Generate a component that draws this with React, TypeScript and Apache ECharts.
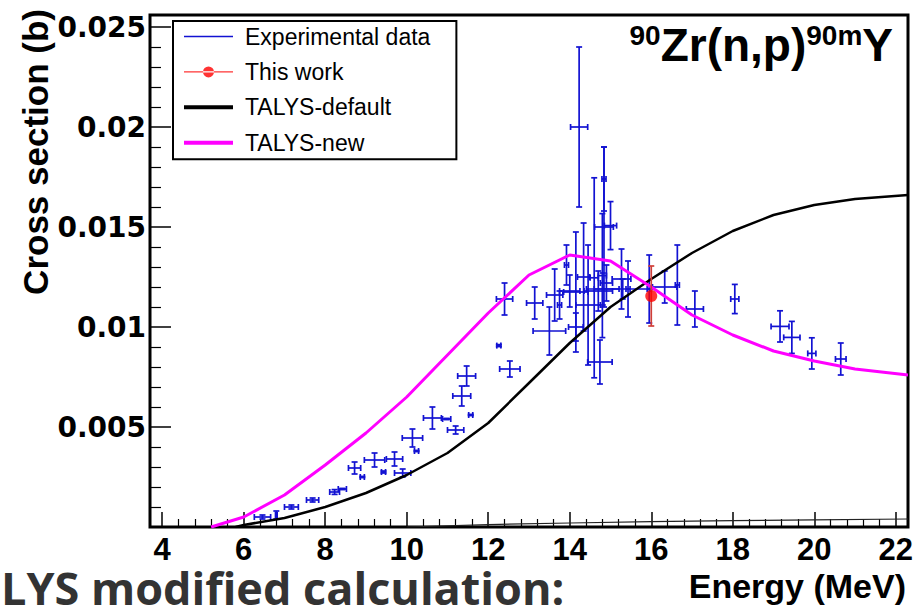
import React, { useEffect, useRef } from "react";
import * as echarts from "echarts";

// ---- Experimental data (EXFOR compilation): energy (MeV), cross section (b), errors
const expEnergy = [
  6.46, 6.8, 7.17, 7.69, 8.23, 8.42, 8.72, 8.91, 9.21, 9.43, 9.7, 9.9, 10.14, 10.24, 10.63, 10.98,
  11.2, 11.35, 11.47, 11.57, 12.26, 12.4, 12.53, 13.14, 13.5, 13.63, 13.75, 13.92, 14.0, 14.15,
  14.15, 14.23, 14.34, 14.45, 14.6, 14.7, 14.74, 14.8, 14.81, 14.84, 14.84, 14.9, 15.0, 15.27,
  15.3, 15.43, 15.95, 16.33, 16.64, 17.07, 18.05, 19.16, 19.45, 19.94, 20.65,
];
const expSigma = [
  0.0005, 0.0006, 0.001, 0.00135, 0.00175, 0.0019, 0.00295, 0.0025, 0.00335, 0.00275, 0.0034,
  0.0027, 0.00445, 0.0038, 0.00545, 0.0054, 0.00485, 0.00655, 0.00755, 0.0056, 0.00907, 0.0114,
  0.0079, 0.0112, 0.0098, 0.0116, 0.0111, 0.0131, 0.0118, 0.01175, 0.01, 0.02, 0.0125, 0.0111,
  0.01246, 0.0118, 0.00825, 0.01257, 0.0119, 0.015, 0.0174, 0.0122, 0.01507, 0.0124, 0.0119,
  0.0119, 0.0119, 0.012, 0.0121, 0.0109, 0.0114, 0.01003, 0.00948, 0.00868, 0.0084,
];
const expEnergyErr = [
  0.2, 0.02, 0.17, 0.15, 0.12, 0.1, 0.15, 0.05, 0.25, 0.05, 0.2, 0.2, 0.25, 0.05, 0.22, 0.1, 0.2,
  0.22, 0.22, 0.05, 0.05, 0.2, 0.25, 0.2, 0.4, 0.2, 0.05, 0.05, 0.25, 0.3, 0.18, 0.21, 0.15, 0.3,
  0.1, 0.35, 0.3, 0.1, 0.4, 0.23, 0.05, 0.15, 0.15, 0.23, 0.7, 0.05, 0.05, 0.3, 0.05, 0.21, 0.1,
  0.22, 0.2, 0.1, 0.13,
];
const expSigmaErr = [
  0.0001, 0.0002, 0.0001, 0.0001, 0.00012, 0.00003, 0.0003, 0.00003, 0.00035, 0.00005, 0.00035,
  0.0002, 0.00045, 0.00003, 0.00055, 0.00003, 0.0002, 0.0005, 0.0005, 0.00003, 0.00005, 0.0008,
  0.0004, 0.0008, 0.0012, 0.0013, 0.0007, 0.001, 0.0008, 0.003, 0.0007, 0.004, 0.0027, 0.003,
  0.005, 0.001, 0.0011, 0.0031, 0.0008, 0.004, 0.0016, 0.0009, 0.0012, 0.0015, 0.0005, 0.0014,
  0.0017, 0.0008, 0.002, 0.0009, 0.00073, 0.00078, 0.0008, 0.00078, 0.0008,
];

// ---- This work
const thisWorkEnergy = [16.0];
const thisWorkSigma = [0.01155];
const thisWorkSigmaErr = [0.0015];

// ---- TALYS calculations
const talysDefaultEnergy = [5.8, 6, 7, 8, 9, 10, 11, 12, 13, 14, 15, 16, 17, 18, 19, 20, 21, 22.3];
const talysDefaultSigma = [
  0, 0.0001, 0.00045, 0.001, 0.0017, 0.0026, 0.0037, 0.0052, 0.0072, 0.0092, 0.011, 0.0124,
  0.0137, 0.0148, 0.0156, 0.0161, 0.0164, 0.0166,
];
const talysNewEnergy = [5.2, 6, 7, 8, 9, 10, 11, 12, 13, 14, 15, 16, 17, 18, 19, 20, 21, 22.3];
const talysNewSigma = [
  0, 0.0005, 0.0016, 0.0031, 0.0047, 0.0065, 0.0086, 0.0107, 0.0126, 0.0136, 0.0133, 0.012,
  0.0106, 0.0096, 0.0088, 0.0083, 0.0079, 0.0076,
];
const lowCurveEnergy = [10, 12, 14, 16, 18, 20, 22.3];
const lowCurveSigma = [0, 0.00012, 0.0002, 0.00027, 0.00032, 0.00036, 0.0004];

// ---- Tick labels
const xTickValues = [4, 6, 8, 10, 12, 14, 16, 18, 20, 22];
const yTickValues = [0.005, 0.01, 0.015, 0.02, 0.025];
const yTickLabels = ["0.005", "0.01", "0.015", "0.02", "0.025"];

const BLUE = "#1212d2";
const RED = "#ff0000";
const RED_ERR = "#cf3f38";
const MAGENTA = "#ff00ff";

const makeErrorBar = (color: string, lw: number, cap: number) => (params: any, api: any) => {
  const x = api.value(0);
  const y = api.value(1);
  const dx = api.value(2);
  const dy = api.value(3);
  const c = api.coord([x, y]);
  const style = { stroke: color, lineWidth: lw, fill: "none" };
  const children: any[] = [];
  if (dx > 0) {
    const l = api.coord([x - dx, y]);
    const r = api.coord([x + dx, y]);
    children.push({ type: "line", shape: { x1: l[0], y1: c[1], x2: r[0], y2: c[1] }, style });
    children.push({ type: "line", shape: { x1: l[0], y1: c[1] - cap, x2: l[0], y2: c[1] + cap }, style });
    children.push({ type: "line", shape: { x1: r[0], y1: c[1] - cap, x2: r[0], y2: c[1] + cap }, style });
  }
  if (dy > 0) {
    const t = api.coord([x, y + dy]);
    const b = api.coord([x, y - dy]);
    children.push({ type: "line", shape: { x1: c[0], y1: t[1], x2: c[0], y2: b[1] }, style });
    children.push({ type: "line", shape: { x1: c[0] - cap, y1: t[1], x2: c[0] + cap, y2: t[1] }, style });
    children.push({ type: "line", shape: { x1: c[0] - cap, y1: b[1], x2: c[0] + cap, y2: b[1] }, style });
  }
  return { type: "group", children };
};

const HELV = "'Liberation Sans', Arial, Helvetica, sans-serif";

export default function App() {
  const ref = useRef<HTMLDivElement>(null);
  useEffect(() => {
    if (!ref.current) return;
    const chart = echarts.init(ref.current, undefined, { renderer: "svg" });
    const expData = expEnergy.map((e, i) => [e, expSigma[i], expEnergyErr[i], expSigmaErr[i]]);
    const twErr = thisWorkEnergy.map((e, i) => [e, thisWorkSigma[i], 0, thisWorkSigmaErr[i]]);
    const option: any = {
      animation: false,
      backgroundColor: "#fff",
      grid: {
        left: 150,
        right: 12,
        top: 15,
        bottom: 82,
        show: true,
        borderColor: "#000",
        borderWidth: 3,
        backgroundColor: "transparent",
      },
      xAxis: {
        type: "value",
        min: 3.7,
        max: 22.3,
        splitNumber: 9,
        axisLine: { show: false },
        splitLine: { show: false },
        axisTick: { show: true, inside: true, length: 15, lineStyle: { color: "#000", width: 1.5 } },
        minorTick: { show: true, splitNumber: 5, length: 8, lineStyle: { color: "#000", width: 1.2 } },
        axisLabel: {
          margin: 7,
          color: "#000",
          fontFamily: HELV,
          fontWeight: "bold",
          fontSize: 31,
          lineHeight: 30,
          formatter: (v: number) => {
            const t = xTickValues.find((k) => Math.abs(k - v) < 1e-6);
            return t === undefined ? "" : String(t);
          },
        },
      },
      yAxis: {
        type: "value",
        min: 0,
        max: 0.0256,
        interval: 0.005,
        axisLine: { show: false },
        splitLine: { show: false },
        axisTick: { show: true, inside: true, length: 21, lineStyle: { color: "#000", width: 1.5 } },
        minorTick: { show: true, splitNumber: 5, length: 11, lineStyle: { color: "#000", width: 1.2 } },
        axisLabel: {
          margin: 4,
          color: "#000",
          fontFamily: "'DejaVu Sans', sans-serif",
          fontWeight: "bold",
          fontSize: 28,
          formatter: (v: number) => {
            const i = yTickValues.findIndex((k) => Math.abs(k - v) < 1e-9);
            return i < 0 ? "" : yTickLabels[i];
          },
        },
      },
      legend: {
        orient: "vertical",
        left: 173,
        top: 21,
        backgroundColor: "#fff",
        borderColor: "#000",
        borderWidth: 2,
        padding: [4, 26, 5, 11],
        itemWidth: 49,
        itemHeight: 14,
        itemGap: 12.4,
        selectedMode: false,
        itemStyle: { borderWidth: 0 },
        textStyle: { fontFamily: HELV, fontSize: 23, color: "#000", padding: [0, 0, 0, 7] },
        data: [
          { name: "Experimental data", icon: "path://M0,0L49,0L49,1.3L0,1.3Z" },
          {
            name: "This work",
            icon: "path://M0,5.35L49,5.35L49,6.65L0,6.65Z M19,6A5.5,5.5,0,1,0,30,6A5.5,5.5,0,1,0,19,6Z",
          },
          { name: "TALYS-default", icon: "path://M0,0L49,0L49,4L0,4Z" },
          { name: "TALYS-new", icon: "path://M0,0L49,0L49,4L0,4Z" },
        ],
      },
      graphic: [
        {
          type: "text",
          x: 893,
          y: 21,
          style: {
            text: "{s|90}{m|Zr(n,p)}{s|90m}{m|Y}",
            align: "right",
            verticalAlign: "top",
            fill: "#000",
            rich: {
              s: { fontFamily: HELV, fontWeight: "bold", fontSize: 28, lineHeight: 28, verticalAlign: "top", fill: "#000" },
              m: { fontFamily: HELV, fontWeight: "bold", fontSize: 46, lineHeight: 47, fill: "#000" },
            },
          },
        },
        {
          type: "text",
          x: 35,
          y: 9,
          rotation: Math.PI / 2,
          style: {
            text: "Cross section (b)",
            align: "right",
            verticalAlign: "middle",
            fontFamily: HELV,
            fontWeight: "bold",
            fontSize: 35,
            fill: "#000",
          },
        },
        {
          type: "text",
          x: 906,
          y: 586,
          style: {
            text: "Energy (MeV)",
            align: "right",
            verticalAlign: "middle",
            fontFamily: HELV,
            fontWeight: "bold",
            fontSize: 34,
            lineHeight: 36,
            fill: "#000",
          },
        },
        {
          type: "text",
          x: 1,
          y: 587,
          style: {
            text: "LYS modified calculation:",
            align: "left",
            verticalAlign: "middle",
            fontFamily: "'Open Sans', 'Noto Sans', sans-serif",
            fontWeight: "bold",
            fontSize: 45,
            lineHeight: 38,
            fill: "#333333",
          },
        },
      ],
      series: [
        {
          name: "Experimental data",
          type: "custom",
          renderItem: makeErrorBar(BLUE, 1.7, 3),
          dimensions: ["E", "sigma", "dE", "dSigma"],
          encode: { x: 0, y: 1 },
          itemStyle: { color: BLUE },
          data: expData,
          z: 2,
        },
        {
          name: "TALYS-low",
          type: "line",
          data: lowCurveEnergy.map((e, i) => [e, lowCurveSigma[i]]),
          showSymbol: false,
          symbol: "none",
          lineStyle: { color: "#222", width: 1.2 },
          itemStyle: { color: "#222" },
          z: 3,
        },
        {
          name: "TALYS-default",
          type: "line",
          data: talysDefaultEnergy.map((e, i) => [e, talysDefaultSigma[i]]),
          showSymbol: false,
          symbol: "none",
          lineStyle: { color: "#000", width: 2.5 },
          itemStyle: { color: "#000" },
          z: 3,
        },
        {
          name: "TALYS-new",
          type: "line",
          data: talysNewEnergy.map((e, i) => [e, talysNewSigma[i]]),
          showSymbol: false,
          symbol: "none",
          lineStyle: { color: MAGENTA, width: 3 },
          itemStyle: { color: MAGENTA },
          z: 3,
        },
        {
          name: "This work uncertainty",
          type: "custom",
          renderItem: makeErrorBar(RED_ERR, 1.7, 3),
          encode: { x: 0, y: 1 },
          itemStyle: { color: RED_ERR },
          data: twErr,
          z: 4,
        },
        {
          name: "This work",
          type: "scatter",
          data: thisWorkEnergy.map((e, i) => [e, thisWorkSigma[i]]),
          symbol: "circle",
          symbolSize: 12,
          itemStyle: { color: RED },
          z: 5,
        },
      ],
    };
    chart.setOption(option);
    return () => chart.dispose();
  }, []);
  return (
    <div
      ref={ref}
      style={{ position: "absolute", left: 0, top: 0, width: 920, height: 609, background: "#fff" }}
    />
  );
}
